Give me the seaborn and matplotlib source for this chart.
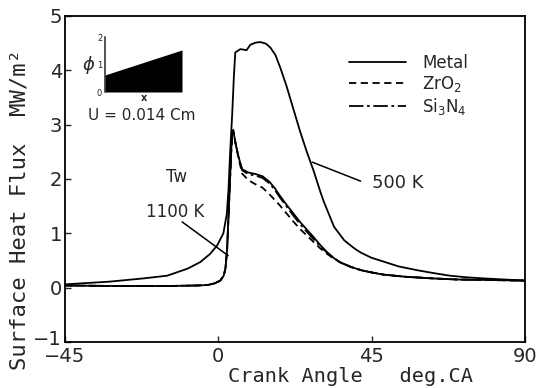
import numpy as np
import pandas as pd
import matplotlib
matplotlib.use("Agg")
import matplotlib.pyplot as plt
import matplotlib.transforms as mtransforms
import seaborn as sns

# ---- data ----
metal_500_x = [-45, -40, -32, -22, -15, -9, -5.3, -2.4, -0.3, 1.5, 2.5, 3.0, 3.5, 4.1, 4.6, 5,
               6.5, 7.5, 8.3, 9.4, 11, 12.4, 14, 15.3, 16.8, 18.2, 20, 22, 24, 26, 28, 30, 31,
               34, 37, 40, 42, 45, 48.5, 53, 58.5, 63, 68, 73, 78, 84, 90]
metal_500_y = [0.06, 0.08, 0.11, 0.17, 0.22, 0.35, 0.47, 0.62, 0.78, 1.0, 1.35, 1.8, 2.5, 3.2,
               3.9, 4.33, 4.39, 4.38, 4.37, 4.47, 4.51, 4.52, 4.49, 4.42, 4.28, 4.05, 3.72, 3.3,
               2.88, 2.5, 2.15, 1.76, 1.58, 1.12, 0.87, 0.72, 0.64, 0.55, 0.48, 0.39, 0.32,
               0.27, 0.22, 0.19, 0.17, 0.15, 0.13]

hot_x = [-45, -30, -15, -6, -3, -1, 0.6, 1.6, 2.1, 2.6, 3.0, 3.4, 3.8, 4.1, 4.4, 5, 5.9, 7,
         8.8, 11, 13, 15, 16.5, 18, 20, 22, 24, 26, 28, 30, 32, 34, 36, 39, 42, 45, 48.5, 55,
         63, 70, 80, 90]
metal_1100_y = [0.04, 0.03, 0.03, 0.04, 0.05, 0.08, 0.13, 0.22, 0.35, 0.7, 1.3, 1.9, 2.5, 2.85,
                2.9, 2.68, 2.42, 2.18, 2.12, 2.09, 2.05, 1.95, 1.84, 1.70, 1.53, 1.37, 1.21,
                1.07, 0.93, 0.78, 0.65, 0.54, 0.46, 0.38, 0.32, 0.28, 0.24, 0.20, 0.17, 0.15,
                0.14, 0.13]
zro2_1100_y = [0.04, 0.03, 0.03, 0.04, 0.05, 0.08, 0.13, 0.22, 0.35, 0.7, 1.3, 1.9, 2.5, 2.85,
               2.9, 2.68, 2.40, 2.10, 1.98, 1.90, 1.84, 1.72, 1.62, 1.52, 1.37, 1.22, 1.08,
               0.96, 0.84, 0.72, 0.62, 0.53, 0.46, 0.38, 0.32, 0.28, 0.24, 0.20, 0.17, 0.15,
               0.14, 0.13]
si3n4_1100_y = [0.04, 0.03, 0.03, 0.04, 0.05, 0.08, 0.13, 0.22, 0.35, 0.7, 1.3, 1.9, 2.5, 2.85,
                2.9, 2.68, 2.42, 2.16, 2.09, 2.06, 2.02, 1.92, 1.81, 1.67, 1.50, 1.33, 1.17,
                1.03, 0.89, 0.76, 0.64, 0.54, 0.46, 0.38, 0.32, 0.28, 0.24, 0.20, 0.17, 0.15,
                0.14, 0.13]

inset_x = [0, 1]
inset_phi = [0.62, 1.53]

x_ticks = [-45, 0, 45, 90]
y_ticks = [-1, 0, 1, 2, 3, 4, 5]

# ---- figure ----
sns.set_style("ticks")
plt.rcParams['font.family'] = ['DejaVu Sans']
fig = plt.figure(figsize=(5.53, 3.88), dpi=100)
ax = fig.add_axes([0.1175, 0.1186, 0.8315, 0.8402])

df500 = pd.DataFrame({"angle": metal_500_x, "flux": metal_500_y})
sns.lineplot(data=df500, x="angle", y="flux", ax=ax, color="black", lw=1.3, sort=False)

for yv, lab, ls in [(metal_1100_y, "Metal", "-"),
                    (zro2_1100_y, "ZrO$_2$", (0, (4, 2.5))),
                    (si3n4_1100_y, "Si$_3$N$_4$", (0, (8, 2, 1.5, 2)))]:
    d = pd.DataFrame({"angle": hot_x, "flux": yv})
    sns.lineplot(data=d, x="angle", y="flux", ax=ax, color="black", lw=1.3,
                 linestyle=ls, label=lab, sort=False)

ax.set_xlim(-45, 90)
ax.set_ylim(-1, 5)
ax.set_xticks(x_ticks)
ax.set_yticks(y_ticks)
ax.tick_params(direction="in", length=4, width=1, labelsize=14, pad=2)
ax.tick_params(axis="x", pad=3.5)
for s in ax.spines.values():
    s.set_visible(True)
    s.set_linewidth(1.3)
    s.set_color("black")

# nudge the lowest y tick label up a little, as in the reference
lbl = ax.get_yticklabels()[0]
lbl.set_transform(lbl.get_transform() + mtransforms.ScaledTranslation(0, 4 / 100, fig.dpi_scale_trans))

mono = "DejaVu Sans Mono"
ax.set_xlabel("Crank Angle   deg.CA", family=mono, fontsize=14.6)
ax.xaxis.set_label_coords(0.62, -0.076)
ax.set_ylabel("Surface Heat Flux  MW/m²", family=mono, fontsize=16)
ax.yaxis.set_label_coords(-0.078, 0.405)

leg = ax.legend(loc="upper left", bbox_to_anchor=(0.585, 0.93), frameon=False,
                fontsize=12, handlelength=3.4, handletextpad=1.0, labelspacing=0.12)

# annotations
ax.plot([27.6, 41.8], [2.31, 1.96], color="black", lw=1.1)
ax.text(52.6, 1.93, "500 K", fontsize=13, ha="center", va="center")
ax.plot([-10.6, 2.9], [1.21, 0.59], color="black", lw=1.1)
ax.text(-12.6, 1.39, "1100 K", fontsize=12, ha="center", va="center")
ax.text(-12.1, 2.04, "Tw", fontsize=12, ha="center", va="center")
ax.text(-22.4, 3.17, "U = 0.014 Cm", fontsize=11, ha="center", va="center")

# inset
iax = fig.add_axes([105 / 553, 1 - 92 / 388, 77 / 553, 55 / 388])
iax.fill_between(inset_x, 0, inset_phi, color="black", lw=0)
iax.set_xlim(0, 1)
iax.set_ylim(0, 2)
iax.set_facecolor("none")
for k in ["top", "right", "bottom"]:
    iax.spines[k].set_visible(False)
iax.spines["left"].set_linewidth(1.1)
iax.set_xticks([])
iax.set_yticks([0, 1, 2])
iax.tick_params(axis="y", length=0, labelsize=6, pad=2)
iax.set_ylabel("$\\phi$", fontsize=13, rotation=0, labelpad=6, va="center")
iax.set_xlabel("x", fontsize=7, fontweight="bold", labelpad=1)

fig.savefig("out.png", dpi=100)
